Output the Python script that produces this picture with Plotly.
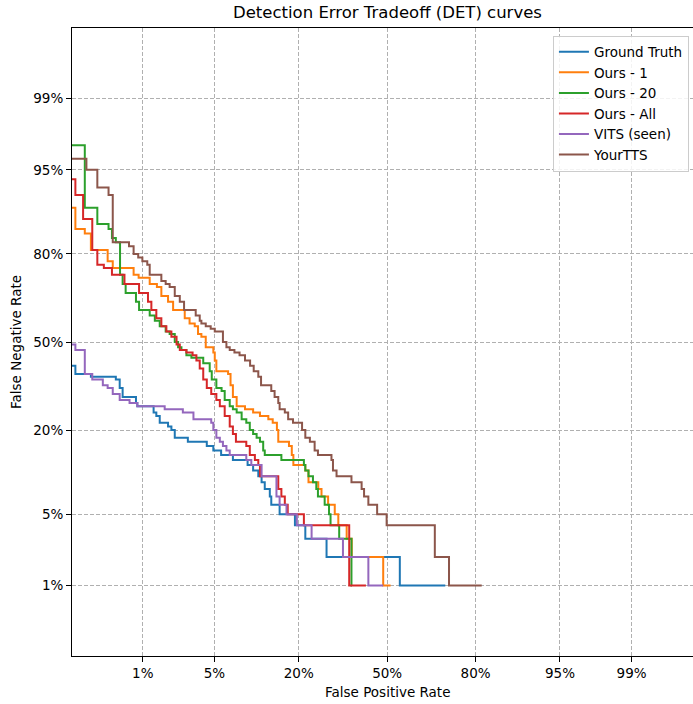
import statistics
import plotly.graph_objects as go

# ---------------- data (rates in %) ----------------
gt_fpr = [0.1, 0.15, 0.24, 0.49, 0.545, 0.59, 0.84, 0.87, 1.31, 1.40, 1.52, 1.85, 2.0, 2.16, 2.89,
          4.3, 4.9, 5.7, 7.1, 9.2, 10.1, 11.0, 11.6, 12.2, 13.2, 13.5, 15.3, 19.0, 21.8, 28.2, 54.8, 71.0]
gt_fnr = [41, 38, 37, 36, 33, 30, 28, 27, 25, 24, 22, 21, 20, 18, 17,
          16, 15, 14, 13, 12, 11, 10, 9, 8, 7, 6, 5, 4, 3, 2, 1, 1]

o1_fpr = [0.1, 0.15, 0.20, 0.24, 0.39, 0.45, 0.79, 0.90, 1.19, 1.42, 1.58, 1.85, 2.08, 2.70, 3.0,
          3.35, 3.59, 3.85, 4.21, 4.9, 5.04, 5.2, 6.5, 6.8, 7.1, 7.6, 8.8, 10.1, 11.3, 12.9,
          13.8, 14.7, 15.0, 17.5, 18.2, 18.6, 21.8, 22.7, 25.6, 26.6, 28.7, 30.9, 32.1, 35.0,
          36.8, 48.5, 51.3]
o1_fnr = [90, 86, 85, 81, 78, 76, 74, 73, 71, 70, 67, 65, 62, 59, 57,
          56, 53, 52, 48, 46, 43, 39, 38, 34, 30, 27, 26, 25, 24, 23,
          22, 20, 17, 16, 14, 12, 11, 9, 8, 7, 6, 5, 4, 3,
          2, 1, 1]

o20_fpr = [0.1, 0.20, 0.29, 0.40, 0.44, 0.49, 0.55, 0.59, 0.64, 0.84, 0.91, 1.19, 1.35, 1.52, 1.75,
           1.92, 2.16, 2.33, 2.51, 2.80, 3.12, 4.0, 4.56, 4.75, 5.2, 5.75, 6.1, 6.7, 7.1, 7.6,
           8.3, 9.0, 9.55, 10.1, 10.7, 11.3, 11.9, 12.2, 15.7, 21.4, 21.8, 22.7, 24.0, 25.0,
           25.5, 27.6, 29.0, 29.5, 32.4, 36.7, 36.9]
o20_fnr = [97, 90, 87, 86, 84, 83, 74, 71, 68, 65, 62, 60, 58, 56, 54,
           53, 50, 48, 47, 45, 44, 42, 39, 36, 33, 32, 29, 27, 26, 25,
           23, 22, 20, 19, 18, 17, 15, 14, 13, 12, 11, 10, 9, 8,
           7, 6, 5, 4, 3, 1, 1]

oall_fpr = [0.1, 0.15, 0.19, 0.25, 0.29, 0.35, 0.44, 0.62, 0.91, 1.14, 1.24, 1.40, 1.58, 1.78, 2.0,
            2.25, 2.42, 2.8, 3.2, 3.47, 3.72, 4.0, 4.3, 4.7, 5.2, 5.56, 6.1, 6.7, 7.1, 7.5,
            9.0, 9.55, 10.4, 11.0, 11.3, 15.0, 15.7, 16.5, 17.2, 21.4, 35.9, 42.0]
oall_fnr = [94, 92, 88, 81, 77, 76, 74, 71, 68, 65, 62, 59, 56, 54, 52,
            49, 47, 46, 45, 43, 40, 36, 33, 31, 29, 27, 24, 21, 19, 17,
            16, 14, 13, 12, 10, 8, 7, 6, 5, 4, 1, 1]

vits_fpr = [0.1, 0.15, 0.20, 0.25, 0.34, 0.39, 0.45, 0.545, 0.71, 0.87, 1.71, 2.59, 3.26, 4.7, 4.9,
            5.2, 5.56, 5.9, 6.3, 6.7, 9.0, 9.8, 11.6, 14.6, 15.3, 16.9, 19.5, 23.6, 33.7, 42.9, 48.5]
vits_fnr = [49, 47, 38, 36, 34, 33, 31, 29, 28, 27, 26, 25, 23, 22, 20,
            18, 17, 16, 15, 14, 13, 12, 10, 7, 6, 5, 4, 3, 2, 1, 1]

ytts_fpr = [0.1, 0.21, 0.29, 0.40, 0.45, 0.70, 0.79, 0.89, 0.99, 1.12, 1.19, 1.58, 1.75, 1.92, 2.16,
            2.42, 2.66, 3.42, 3.72, 3.85, 4.21, 4.65, 5.04, 5.9, 6.3, 6.7, 7.3, 8.0, 8.8, 9.6,
            10.2, 11.0, 11.5, 13.5, 14.2, 15.0, 15.3, 16.5, 17.3, 18.5, 20.9, 21.8, 23.1, 24.5,
            25.5, 29.8, 30.3, 31.5, 36.7, 40.4, 41.3, 42.9, 46.2, 49.8, 67.5, 72.2, 81.6]
ytts_fnr = [96, 95, 93, 92, 83, 82, 80, 79, 78, 77, 74, 72, 71, 70, 67,
            65, 62, 60, 58, 57, 56, 55, 54, 50, 48, 47, 46, 45, 43, 41,
            39, 37, 34, 32, 30, 28, 26, 25, 23, 22, 20, 18, 17, 15,
            14, 13, 11, 10, 9, 8, 7, 6, 5, 4, 2, 1, 1]

series_names = ["Ground Truth", "Ours - 1", "Ours - 20", "Ours - All", "VITS (seen)", "YourTTS"]
series_colors = ["#1f77b4", "#ff7f0e", "#2ca02c", "#d62728", "#9467bd", "#8c564b"]
tick_pcts = [1, 5, 20, 50, 80, 95, 99]
tick_text = ["1%", "5%", "20%", "50%", "80%", "95%", "99%"]

# ---------------- figure ----------------
nd = statistics.NormalDist()


def probit(vals):
    return [nd.inv_cdf(v / 100.0) for v in vals]


series = [(gt_fpr, gt_fnr), (o1_fpr, o1_fnr), (o20_fpr, o20_fnr),
          (oall_fpr, oall_fnr), (vits_fpr, vits_fnr), (ytts_fpr, ytts_fnr)]

FONT = "DejaVu Sans"
fig = go.Figure()
for (fx, fy), name, col in zip(series, series_names, series_colors):
    fig.add_trace(go.Scatter(
        x=probit(fx), y=probit(fy), mode="lines", name=name,
        line=dict(color=col, width=2, shape="hv"),
    ))

tickvals = probit(tick_pcts)
W, H = 693, 704
L, T, B = 72.3, 28.3, 48.3
x_lo = -3.0
px_per_unit_x = 105.0
x_hi = x_lo + (W - L) / px_per_unit_x

axis_common = dict(
    tickvals=tickvals, ticktext=tick_text,
    showgrid=True, gridcolor="#b0b0b0", gridwidth=1, griddash="4px,2px",
    zeroline=False, showline=True, linecolor="black", linewidth=1,
    ticks="outside", ticklen=5, tickwidth=1, tickcolor="black",
    tickfont=dict(family=FONT, size=13.5, color="black"),
)

fig.update_layout(
    width=W, height=H,
    margin=dict(l=L, r=0, t=T, b=B, pad=0),
    paper_bgcolor="white", plot_bgcolor="white",
    font=dict(family=FONT, size=13.5, color="black"),
    xaxis=dict(range=[x_lo, x_hi], mirror=True, **axis_common),
    yaxis=dict(range=[-3, 3], mirror=False,
               title=dict(text="False Negative Rate", standoff=8,
                          font=dict(family=FONT, size=13.5, color="black")),
               **axis_common),
    showlegend=True,
    legend=dict(
        x=(553 - L) / (W - L), y=0.988, xanchor="left", yanchor="top",
        bordercolor="#cccccc", borderwidth=1, bgcolor="rgba(255,255,255,0.85)",
        font=dict(family=FONT, size=13.5, color="black"), itemwidth=30,
    ),
    annotations=[
        dict(text="Detection Error Tradeoff (DET) curves", xref="paper", yref="paper",
             x=(387.3 - L) / (W - L), y=1, yshift=4, xanchor="center", yanchor="bottom",
             showarrow=False, font=dict(family=FONT, size=16.5, color="black")),
        dict(text="False Positive Rate", xref="paper", yref="paper",
             x=(387.3 - L) / (W - L), y=0, yshift=-26, xanchor="center", yanchor="top",
             showarrow=False, font=dict(family=FONT, size=13.5, color="black")),
    ],
)

fig.write_html("out.html")
